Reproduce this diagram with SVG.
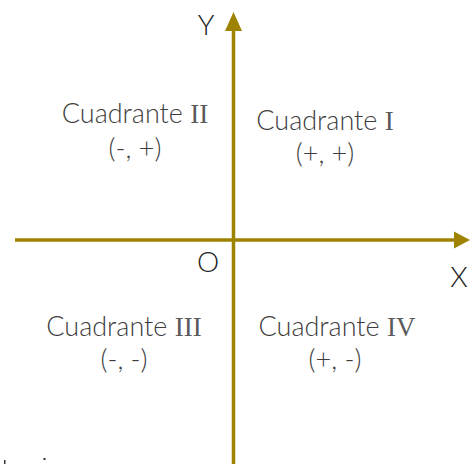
<svg xmlns="http://www.w3.org/2000/svg" width="476" height="464" viewBox="0 0 476 464">
<style>
.ax{stroke:#9E8300;stroke-width:3.5;fill:none}
.ah{fill:#9E8300}
.t{font-family:Lato,"Open Sans",sans-serif;font-weight:300;fill:#3d3d3d;font-size:27px;text-anchor:middle}
.r{font-family:"Liberation Serif",serif;font-weight:400;fill:#5a5a5a;font-size:27px}
.l{font-family:Lato,"Open Sans",sans-serif;font-weight:300;fill:#222;font-size:28px;text-anchor:middle}
</style>
<rect width="476" height="464" fill="#fff"/>
<g id="connectors">
<line class="ax" x1="233.5" y1="28" x2="233.5" y2="464"/>
<polygon class="ah" points="233.5,12 242,31 225,31"/>
<line class="ax" x1="15" y1="240" x2="456" y2="240"/>
<polygon class="ah" points="470,240 454,231.5 454,248.5"/>
</g>
<g id="labelY"><text class="l" x="206" y="35">Y</text></g>
<g id="labelX"><text class="l" x="459" y="287">X</text></g>
<g id="labelO"><text class="l" x="208" y="272">O</text></g>
<g id="q2"><text class="t" x="135" y="123">Cuadrante <tspan class="r">II</tspan></text><text class="t" x="135" y="158">(-, +)</text></g>
<g id="q1"><text class="t" x="325" y="130">Cuadrante <tspan class="r">I</tspan></text><text class="t" x="325" y="163">(+, +)</text></g>
<g id="q3"><text class="t" x="124" y="336">Cuadrante <tspan class="r">III</tspan></text><text class="t" x="124" y="369">(-, -)</text></g>
<g id="q4"><text class="t" x="337" y="336">Cuadrante <tspan class="r">IV</tspan></text><text class="t" x="335" y="369">(+, -)</text></g>
<rect x="4" y="460" width="1.5" height="4" fill="#333"/>
<rect x="43.5" y="458" width="2" height="2" fill="#333"/>
</svg>
